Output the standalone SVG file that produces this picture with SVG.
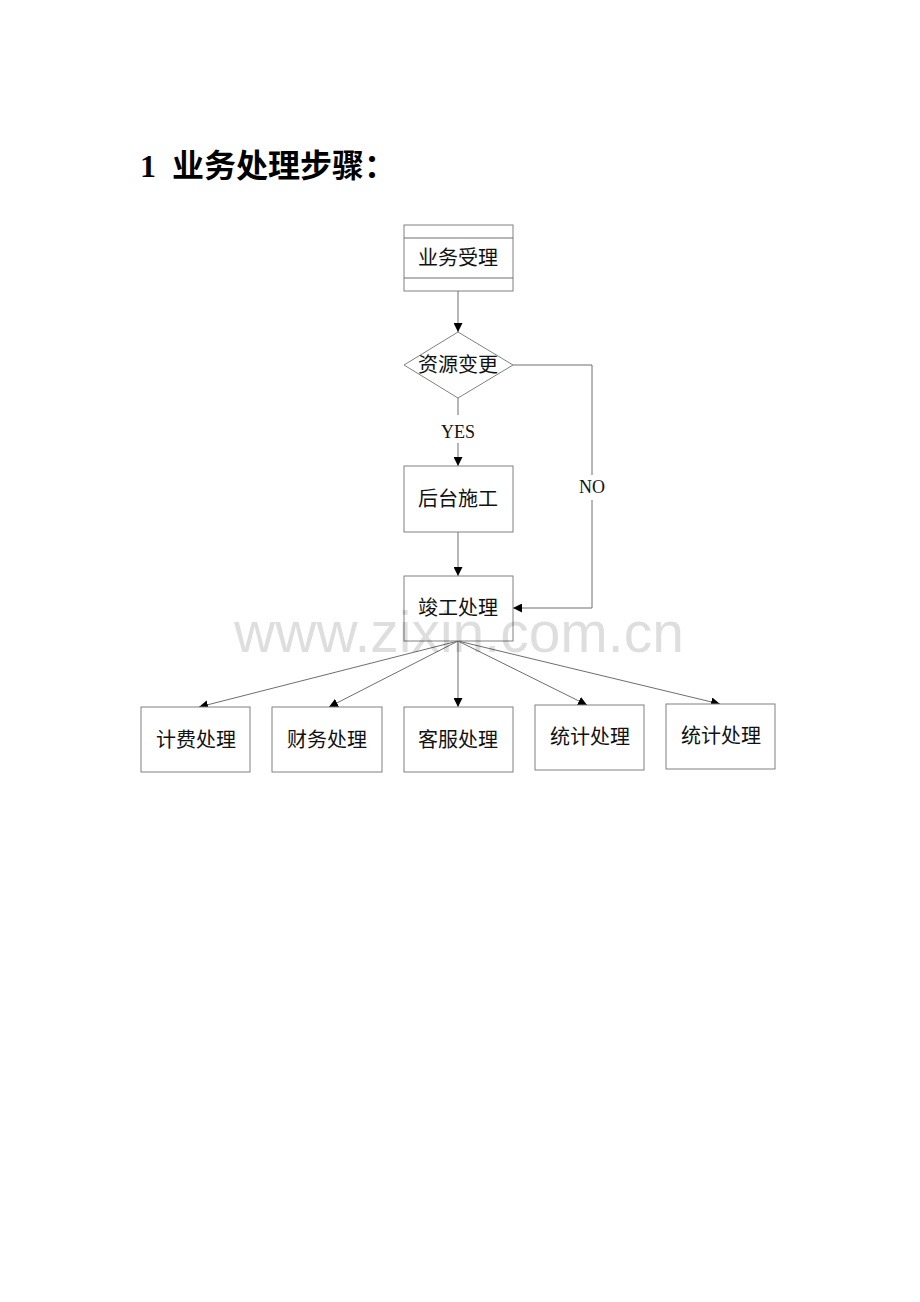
<svg xmlns="http://www.w3.org/2000/svg" width="920" height="1302" viewBox="0 0 920 1302">
<style>
.box{fill:#fff;stroke:#808080;stroke-width:1}
.ln{fill:none;stroke:#6e6e6e;stroke-width:1}
.t{font-family:"Liberation Serif","Noto Sans CJK SC",serif;font-size:20px;fill:#111;text-anchor:middle}
.lbl{font-family:"Liberation Serif","Noto Sans CJK SC",serif;font-size:18px;fill:#111;text-anchor:middle}
</style>
<defs>
<marker id="ah" viewBox="0 0 10 10" refX="10" refY="5" markerWidth="9" markerHeight="9" markerUnits="userSpaceOnUse" orient="auto">
<path d="M0,0 L10,5 L0,10 Z" fill="#000"/>
</marker>
</defs>
<rect width="920" height="1302" fill="#fff"/>
<text x="140" y="177" font-family="Liberation Serif,'Noto Sans CJK SC',serif" font-size="32" font-weight="bold" fill="#000" xml:space="preserve">1  业务处理步骤：</text>

<g id="connectors">
<line class="ln" x1="458" y1="291" x2="458" y2="332" marker-end="url(#ah)"/>
<line class="ln" x1="458" y1="398" x2="458" y2="415"/>
<line class="ln" x1="458" y1="443" x2="458" y2="466" marker-end="url(#ah)"/>
<polyline class="ln" points="513,365 592,365 592,475"/>
<polyline class="ln" points="592,500 592,608 513,608" marker-end="url(#ah)"/>
<line class="ln" x1="458" y1="532" x2="458" y2="576" marker-end="url(#ah)"/>
<line class="ln" x1="458" y1="641" x2="199" y2="707" marker-end="url(#ah)"/>
<line class="ln" x1="458" y1="641" x2="329" y2="707" marker-end="url(#ah)"/>
<line class="ln" x1="458" y1="641" x2="458" y2="707" marker-end="url(#ah)"/>
<line class="ln" x1="458" y1="641" x2="587" y2="705" marker-end="url(#ah)"/>
<line class="ln" x1="458" y1="641" x2="720" y2="704" marker-end="url(#ah)"/>
<text class="lbl" x="458" y="438">YES</text>
<text class="lbl" x="592" y="493">NO</text>
</g>

<g id="n1">
<rect class="box" x="404" y="225" width="109" height="66"/>
<line class="ln" stroke="#808080" x1="404" y1="238" x2="513" y2="238"/>
<line class="ln" stroke="#808080" x1="404" y1="278" x2="513" y2="278"/>
<text class="t" x="458" y="265">业务受理</text>
</g>
<g id="n2">
<polygon class="box" points="458,332 513,365 458,398 404,365"/>
<text class="t" x="458" y="372">资源变更</text>
</g>
<g id="n3">
<rect class="box" x="404" y="466" width="109" height="66"/>
<text class="t" x="458" y="506">后台施工</text>
</g>
<g id="n4">
<rect class="box" x="404" y="576" width="109" height="65"/>
<text class="t" x="458" y="615">竣工处理</text>
</g>
<g id="n5">
<rect class="box" x="141" y="707" width="109" height="65"/>
<text class="t" x="196" y="747">计费处理</text>
</g>
<g id="n6">
<rect class="box" x="272" y="707" width="110" height="65"/>
<text class="t" x="327" y="747">财务处理</text>
</g>
<g id="n7">
<rect class="box" x="404" y="707" width="109" height="65"/>
<text class="t" x="458" y="747">客服处理</text>
</g>
<g id="n8">
<rect class="box" x="535" y="705" width="109" height="65"/>
<text class="t" x="590" y="744">统计处理</text>
</g>
<g id="n9">
<rect class="box" x="666" y="704" width="109" height="65"/>
<text class="t" x="721" y="743">统计处理</text>
</g>

<text x="459" y="652" font-family="Liberation Sans,Arial,sans-serif" font-size="57" fill="#000" fill-opacity="0.13" text-anchor="middle">www.zixin.com.cn</text>
</svg>
